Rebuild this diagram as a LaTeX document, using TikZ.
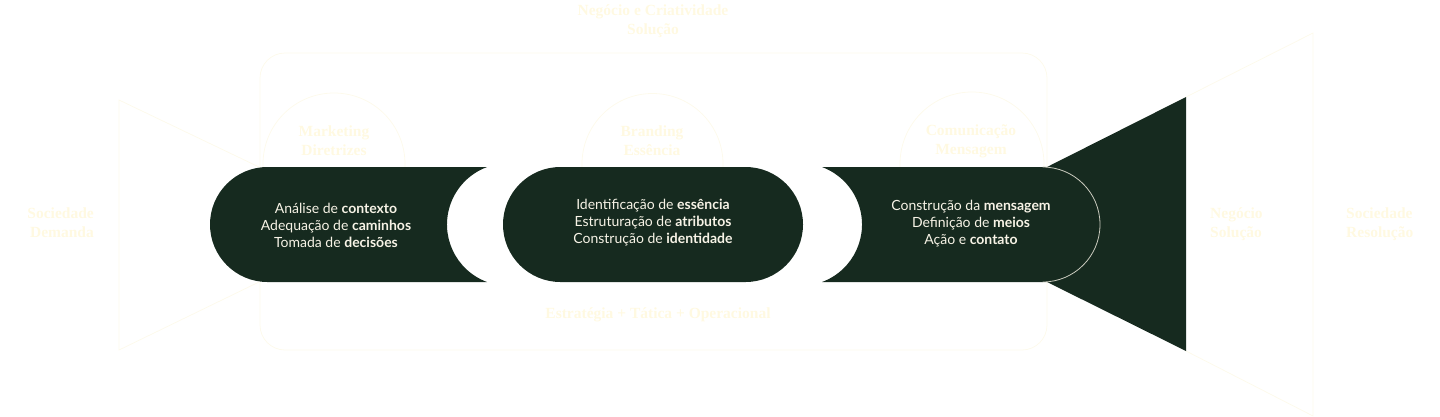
\documentclass[tikz,border=0pt]{standalone}
\usepackage{fontspec}
\setmainfont{Lato}
\newfontfamily\labelfont{Liberation Serif}
\definecolor{dkgreen}{HTML}{162A1F}
\definecolor{cream}{HTML}{FFF9E1}
\definecolor{creamline}{HTML}{FDFAEC}
\definecolor{captext}{HTML}{F7F3E6}
\tikzset{
  faint/.style={draw=creamline, line width=0.8pt},
  lbl/.style={text=cream, align=center, font=\labelfont\bfseries\fontsize{15.5}{19}\selectfont, inner sep=0pt},
  captxt/.style={text=captext, align=center, font=\fontsize{14}{17}\selectfont, inner sep=0pt},
  shell/.style={fill=dkgreen}
}
\begin{document}
\begin{tikzpicture}[x=1pt,y=1pt]
\useasboundingbox (0,0) rectangle (1440,-416);
% faint background structure
\draw[faint, rounded corners=25] (260,-53) rectangle (1047,-350);
\draw[faint] (259,-167) -- (119,-100) -- (119,-350) -- (259,-282);
\draw[faint] (1186,-97) -- (1313,-33) -- (1313,-416) -- (1186,-351);
\draw[faint] (263,-167) -- (263,-164) arc[start angle=180, end angle=0, radius=71] -- (405,-167);
\draw[faint] (582,-167) -- (582,-164) arc[start angle=180, end angle=0, radius=70.5] -- (723,-167);
\draw[faint] (900,-167) -- (900,-164) arc[start angle=180, end angle=0, radius=72] -- (1044,-167);
% dark shapes
\fill[shell] (1047,-167) -- (1186,-97) -- (1186,-351) -- (1047,-282) -- cycle;
\fill[shell] (487,-167) -- (267.5,-167) arc[start angle=90, end angle=270, radius=57.5]
  -- (487,-282) arc[start angle=249.67, end angle=110.33, radius=61.3] -- cycle;
\fill[shell, rounded corners=57.5] (503,-167) rectangle (803,-282);
\fill[shell] (822,-167) -- (1042.5,-167) arc[start angle=90, end angle=-90, radius=57.5]
  -- (822,-282) arc[start angle=-69.67, end angle=69.67, radius=61.3] -- cycle;
\draw[draw=captext!80!dkgreen, line width=0.8pt] (1042.5,-167) arc[start angle=90, end angle=-90, radius=57.5];
% capsule texts
\node[captxt] (mkt) at (336,-225) {Análise de \textbf{contexto}\\Adequação de \textbf{caminhos}\\Tomada de \textbf{decisões}};
\node[captxt] (brd) at (653,-223) {Identificação de \textbf{essência}\\Estruturação de \textbf{atributos}\\Construção de \textbf{identidade}};
\node[captxt] (com) at (971,-224) {Construção da \textbf{mensagem}\\Definição de \textbf{meios}\\Ação e \textbf{contato}};
% faint labels
\node[lbl] (top) at (653,-21) {Negócio e Criatividade\\Solução};
\node[lbl, anchor=east, align=right] (soc1) at (94,-223) {Sociedade\\Demanda};
\node[lbl] (lmkt) at (334,-141) {Marketing\\Diretrizes};
\node[lbl] (lbrd) at (652,-141) {Branding\\Essência};
\node[lbl] (lcom) at (971,-141) {Comunicação\\Mensagem};
\node[lbl, anchor=west, align=left] (neg) at (1210,-224) {Negócio\\Solução};
\node[lbl, anchor=west, align=left] (soc2) at (1346,-224) {Sociedade\\Resolução};
\node[lbl] (est) at (658,-315) {Estratégia + Tática + Operacional};
\end{tikzpicture}
\end{document}
